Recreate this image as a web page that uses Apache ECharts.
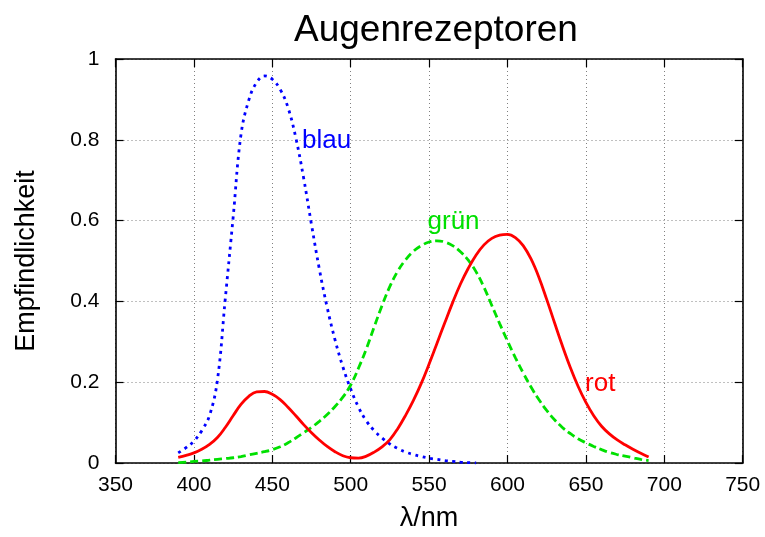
<!DOCTYPE html>
<html>
<head>
<meta charset="utf-8">
<script src="https://cdn.jsdelivr.net/npm/echarts@6/dist/echarts.min.js"></script>
<style>html,body{margin:0;padding:0;background:#fff}#c{width:765px;height:537px}</style>
</head>
<body>
<div id="c"></div>
<script>
const titleText = 'Augenrezeptoren';
const xName = 'λ/nm';
const yName = 'Empfindlichkeit';
const wavelengths = [390,395,400,405,410,415,420,425,430,435,440,445,450,455,460,465,470,475,480,485,490,495,500,505,510,515,520,525,530,535,540,545,550,555,560,565,570,575,580,585,590,595,600,605,610,615,620,625,630,635,640,645,650,655,660,665,670,675,680,685,690];
const blau = [0.025,0.038,0.054,0.08,0.118,0.205,0.406,0.607,0.812,0.898,0.942,0.958,0.95,0.925,0.88,0.805,0.705,0.59,0.48,0.385,0.305,0.238,0.183,0.138,0.104,0.08,0.062,0.047,0.036,0.027,0.021,0.016,0.012,0.009,0.006,0.004,0.002,0.001,0.0,null,null,null,null,null,null,null,null,null,null,null,null,null,null,null,null,null,null,null,null,null,null];
const gruen = [0.001,0.002,0.004,0.005,0.007,0.009,0.011,0.013,0.016,0.02,0.024,0.028,0.033,0.04,0.05,0.062,0.075,0.088,0.103,0.12,0.14,0.163,0.193,0.235,0.283,0.337,0.39,0.437,0.475,0.503,0.524,0.538,0.547,0.55,0.547,0.538,0.523,0.502,0.473,0.435,0.39,0.345,0.302,0.261,0.223,0.188,0.157,0.13,0.107,0.088,0.073,0.06,0.05,0.041,0.033,0.026,0.021,0.017,0.013,0.009,0.006];
const rot = [0.014,0.019,0.025,0.034,0.046,0.063,0.088,0.117,0.145,0.165,0.176,0.177,0.17,0.157,0.138,0.117,0.095,0.075,0.057,0.041,0.028,0.018,0.013,0.012,0.017,0.027,0.04,0.058,0.085,0.118,0.155,0.197,0.245,0.296,0.347,0.397,0.443,0.482,0.515,0.54,0.556,0.564,0.566,0.558,0.538,0.505,0.46,0.405,0.347,0.29,0.237,0.19,0.15,0.117,0.091,0.072,0.057,0.045,0.034,0.024,0.015];
const seriesNames = ['blau','grün','rot'];
const labelCoords = [[469,0.7985],[549,0.597],[649.5,0.197]];
const xTicks = [350,400,450,500,550,600,650,700,750];
const yTicks = [0,0.2,0.4,0.6,0.8,1];

const FONT = 'Liberation Sans, Arial, Helvetica, sans-serif';
const colors = ['#0000ff','#00e000','#ff0000'];
const dashes = [[3,4.5],[8,4],'solid'];
const values = [blau, gruen, rot];

function pairs(v){ return wavelengths.map((w,i)=> v[i]==null ? null : [w, v[i]]).filter(p=>p); }

const chart = echarts.init(document.getElementById('c'), null, {renderer:'canvas'});
const axisBase = {
  type:'value', min: xTicks[0], max: xTicks[xTicks.length-1], interval: 50,
  axisLine:{show:true, onZero:false, lineStyle:{color:'#000', width:1.6}},
  axisTick:{show:true, inside:true, length:8, lineStyle:{color:'#000', width:1.2}},
};
chart.setOption({
  animation:false,
  backgroundColor:'#fff',
  title:{text:titleText, left:289, top:7, textStyle:{fontFamily:FONT, fontSize:37, fontWeight:'normal', color:'#000'}},
  grid:{left:115.5, right:22.3, top:59, bottom:66.3, containLabel:false},
  xAxis:[
    Object.assign({}, axisBase, {position:'bottom', name:xName, nameLocation:'middle', nameGap:42,
      nameTextStyle:{fontFamily:FONT, fontSize:27, color:'#000'},
      axisLabel:{show:true, margin:12, fontFamily:FONT, fontSize:21, color:'#000'},
      splitLine:{show:true, lineStyle:{color:'#808080', type:[1,3], width:1}}}),
    Object.assign({}, axisBase, {position:'top', axisLabel:{show:false}, splitLine:{show:false}})
  ],
  yAxis:[
    {type:'value', min:yTicks[0], max:yTicks[yTicks.length-1], interval:0.2, position:'left',
      name:yName, nameLocation:'middle', nameGap:75, nameRotate:90,
      nameTextStyle:{fontFamily:FONT, fontSize:27, color:'#000'},
      axisLine:{show:true, onZero:false, lineStyle:{color:'#000', width:1.6}},
      axisTick:{show:true, inside:true, length:8, lineStyle:{color:'#000', width:1.2}},
      axisLabel:{show:true, margin:16, fontFamily:FONT, fontSize:21, color:'#000'},
      splitLine:{show:true, lineStyle:{color:'#808080', type:[1,3], width:1}}},
    {type:'value', min:yTicks[0], max:yTicks[yTicks.length-1], interval:0.2, position:'right',
      axisLine:{show:true, onZero:false, lineStyle:{color:'#000', width:1.6}},
      axisTick:{show:true, inside:true, length:8, lineStyle:{color:'#000', width:1.2}},
      axisLabel:{show:false}, splitLine:{show:false}}
  ],
  series: seriesNames.map((n,i)=>({
    name:n, type:'line', xAxisIndex:0, yAxisIndex:0, data:pairs(values[i]),
    smooth:0.4, showSymbol:false, symbol:'none', z: 3+i,
    lineStyle:{color:colors[i], width:2.8, type:dashes[i]},
    markPoint:{symbol:'circle', symbolSize:0, silent:true, animation:false,
      data:[{coord:labelCoords[i], value:n}],
      label:{show:true, formatter:n, position:[0,0], align:'left', verticalAlign:'middle',
        fontFamily:FONT, fontSize:26, color:colors[i]}}
  }))
});
</script>
</body>
</html>
